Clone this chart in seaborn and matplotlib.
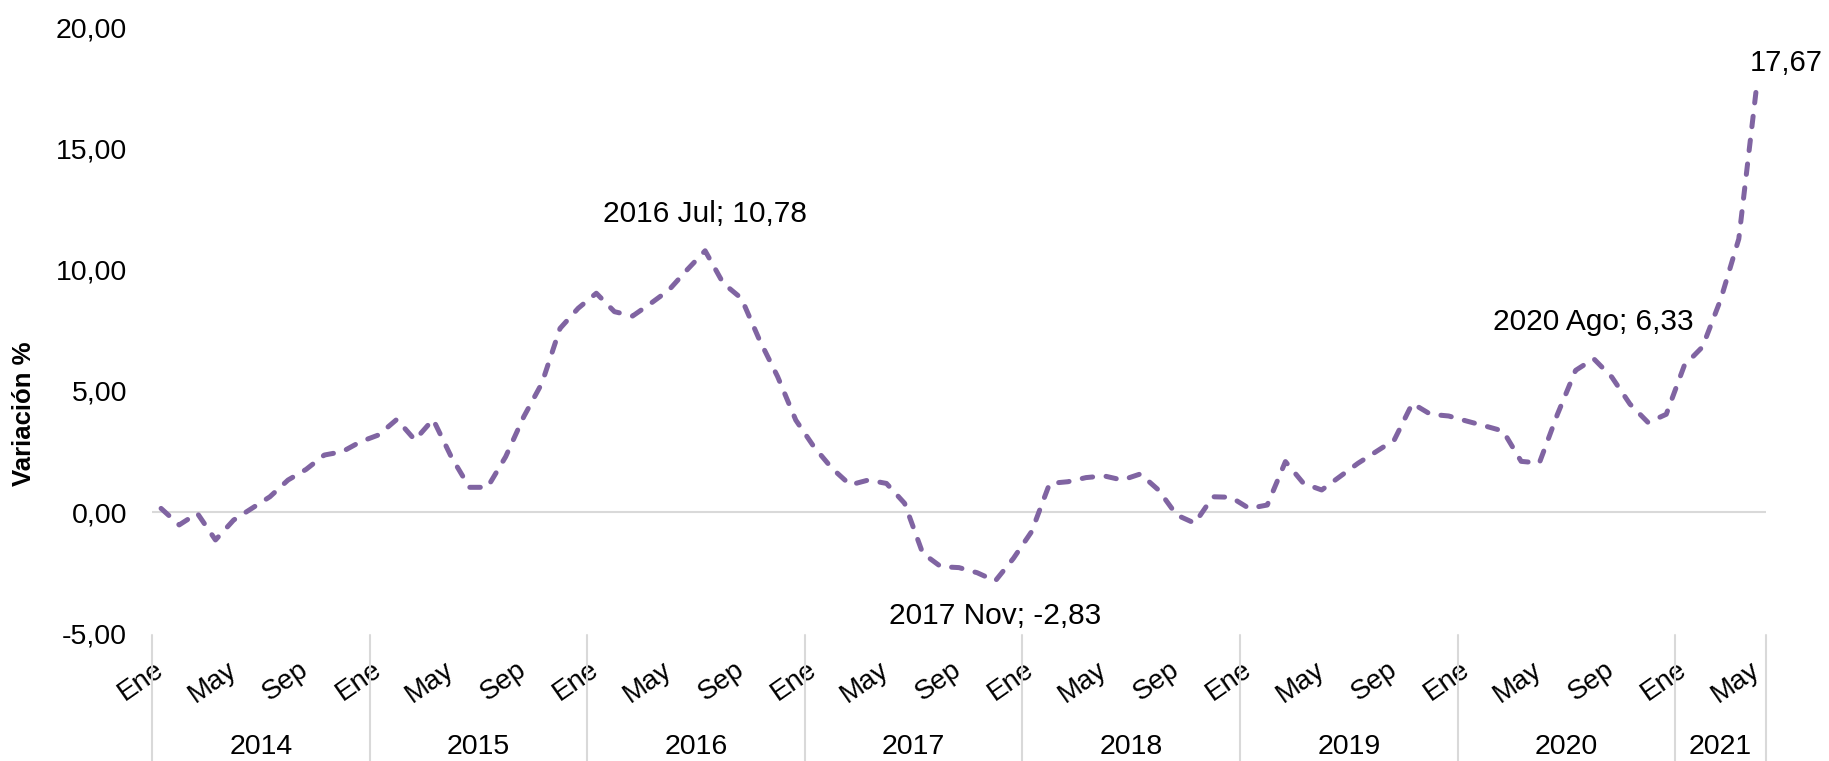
import numpy as np
import pandas as pd
import matplotlib
matplotlib.use("Agg")
import matplotlib.pyplot as plt
import matplotlib.transforms as mtransforms
import seaborn as sns

# ---------------- data ----------------
years = [2014, 2015, 2016, 2017, 2018, 2019, 2020, 2021]
months = ["Ene", "Feb", "Mar", "Abr", "May", "Jun", "Jul", "Ago", "Sep", "Oct", "Nov", "Dic"]
months_per_year = [12, 12, 12, 12, 12, 12, 12, 5]

v2014 = [0.16, -0.52, -0.04, -1.14, -0.32, 0.16, 0.64, 1.33, 1.77, 2.36, 2.50, 2.91]
v2015 = [3.19, 3.83, 2.98, 3.83, 2.29, 1.03, 1.03, 2.29, 3.94, 5.32, 7.58, 8.41]
v2016 = [9.03, 8.27, 8.09, 8.61, 9.16, 9.99, 10.78, 9.44, 8.82, 7.10, 5.59, 3.80]
v2017 = [2.70, 1.81, 1.13, 1.33, 1.19, 0.37, -1.69, -2.24, -2.28, -2.49, -2.83, -1.90]
v2018 = [-0.80, 1.19, 1.26, 1.43, 1.50, 1.33, 1.58, 0.92, -0.11, -0.45, 0.64, 0.62]
v2019 = [0.16, 0.30, 2.09, 1.19, 0.92, 1.47, 2.02, 2.50, 2.98, 4.49, 4.04, 3.97]
v2020 = [3.76, 3.56, 3.35, 2.10, 2.03, 4.04, 5.85, 6.33, 5.57, 4.46, 3.70, 4.04]
v2021 = [6.06, 6.82, 8.77, 11.27, 17.67]

yticks = [-5, 0, 5, 10, 15, 20]
tick_months = ["Ene", "May", "Sep"]
labelled = [(2016, "Jul"), (2017, "Nov"), (2020, "Ago")]

# ---------------- build frame ----------------
values = v2014 + v2015 + v2016 + v2017 + v2018 + v2019 + v2020 + v2021
rows = []
for y, n in zip(years, months_per_year):
    for m in range(n):
        rows.append((y, months[m]))
df = pd.DataFrame(rows, columns=["year", "month"])
df["idx"] = np.arange(len(df))
df["value"] = values

# ---------------- style ----------------
sns.set_theme(style="white")
plt.rcParams["font.family"] = ["Liberation Sans", "DejaVu Sans"]

W, H = 1829, 761
fig = plt.figure(figsize=(W / 100, H / 100), dpi=100)
ax_left, ax_right = 152 / W, 1766 / W
ax_top, ax_bot = 1 - 27.1 / H, 1 - 633.6 / H
ax = fig.add_axes([ax_left, ax_bot, ax_right - ax_left, ax_top - ax_bot])

purple = "#8064A2"
grey = "#D9D9D9"

sns.lineplot(data=df, x="idx", y="value", ax=ax, color=purple, linewidth=3.6,
             linestyle=(0, (2.1, 2.7)), dash_capstyle="round", solid_capstyle="round")

ax.axhline(0, color=grey, linewidth=1.5, zorder=0)

n = len(df)
ax.set_xlim(-0.5, n - 0.5)
ax.set_ylim(-5, 20)
for s in ax.spines.values():
    s.set_visible(False)

ax.set_yticks(yticks)
ax.set_yticklabels([f"{t:.2f}".replace(".", ",") for t in yticks])
ax.tick_params(axis="y", length=0, pad=18, labelsize=20.5, labelcolor="black")

tick_idx = df.index[df["month"].isin(tick_months)].tolist()
ax.set_xticks(tick_idx)
ax.set_xticklabels(df.loc[tick_idx, "month"].tolist())
ax.tick_params(axis="x", length=0, pad=24, labelsize=20, labelcolor="black")
for lab in ax.get_xticklabels():
    lab.set_rotation(35)
    lab.set_ha("right")
    lab.set_va("center")
    lab.set_rotation_mode("anchor")
ax.set_xlabel("")
ax.set_ylabel("")

# year dividers and labels
trans = mtransforms.blended_transform_factory(ax.transData, ax.transAxes)
bounds = [-0.5]
for c in months_per_year:
    bounds.append(bounds[-1] + c)
y_div_top = (633.6 - 635) / (633.6 - 27.1)
y_div_bot = (633.6 - 761) / (633.6 - 27.1)
for b in bounds:
    ax.plot([b, b], [y_div_top, y_div_bot], color=grey, linewidth=1.5,
            transform=trans, clip_on=False)
y_year = (633.6 - 747) / (633.6 - 27.1)
for yr, a, b in zip(years, bounds[:-1], bounds[1:]):
    ax.text((a + b) / 2, y_year, str(yr), transform=trans, ha="center", va="center",
            fontsize=20.5, color="black")

# data labels
def fmt(v):
    return f"{v:.2f}".replace(".", ",")

offsets = {(2016, "Jul"): 37, (2017, "Nov"): -35, (2020, "Ago"): 37}
for yr, mo in labelled:
    r = df[(df["year"] == yr) & (df["month"] == mo)].iloc[0]
    ax.annotate(f"{yr} {mo}; {fmt(r['value'])}", xy=(r["idx"], r["value"]),
                xytext=(0, offsets[(yr, mo)]), textcoords="offset pixels",
                ha="center", va="center", fontsize=21.5, color="black")
last = df.iloc[-1]
ax.annotate(fmt(last["value"]), xy=(last["idx"], last["value"]),
            xytext=(-7, 21), textcoords="offset pixels",
            ha="left", va="center", fontsize=21, color="black", annotation_clip=False)

fig.text(24 / W, 1 - 414 / H, "Variación %", rotation=90, ha="center", va="center",
         fontsize=18.5, fontweight="bold", color="black")

fig.savefig("out.png", dpi=100)
